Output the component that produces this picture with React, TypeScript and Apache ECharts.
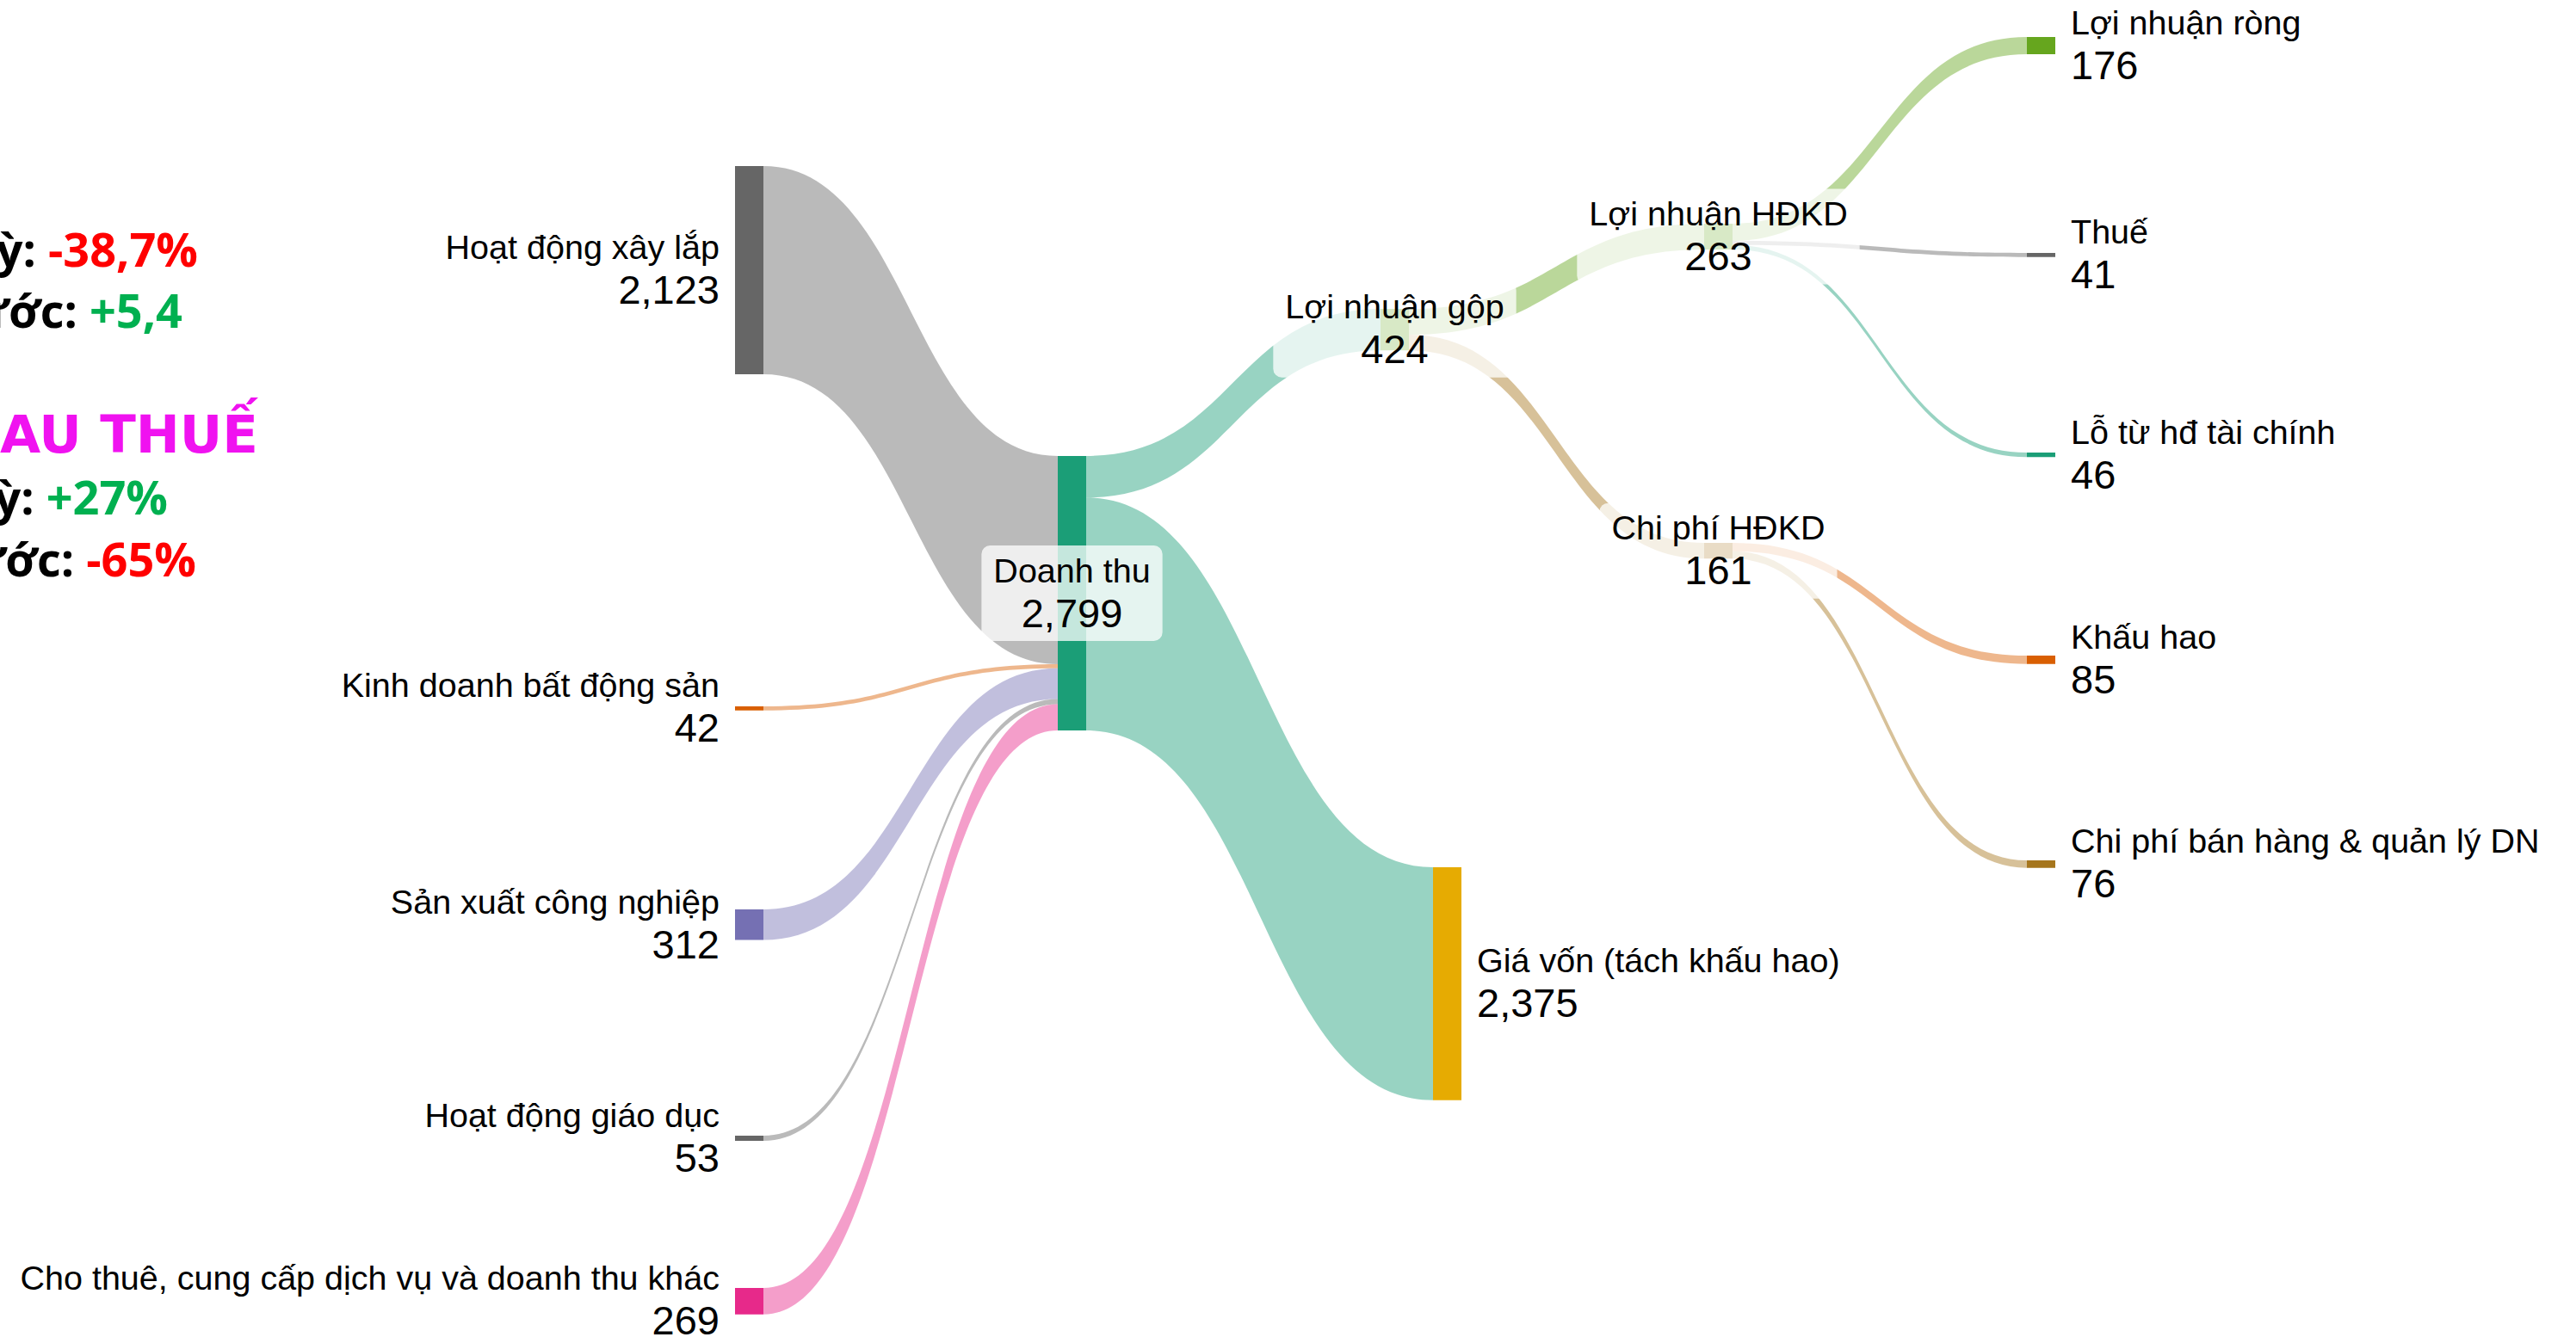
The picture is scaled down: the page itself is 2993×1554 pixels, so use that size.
import React, { useEffect, useRef } from "react";
import * as echarts from "echarts";

// ---- data ----
const nodeNames = [
  "Hoạt động xây lắp",
  "Kinh doanh bất động sản",
  "Sản xuất công nghiệp",
  "Hoạt động giáo dục",
  "Cho thuê, cung cấp dịch vụ và doanh thu khác",
  "Doanh thu",
  "Lợi nhuận gộp",
  "Giá vốn (tách khấu hao)",
  "Lợi nhuận HĐKD",
  "Chi phí HĐKD",
  "Lợi nhuận ròng",
  "Thuế",
  "Lỗ từ hđ tài chính",
  "Khấu hao",
  "Chi phí bán hàng & quản lý DN",
];
const nodeValues = [2123, 42, 312, 53, 269, 2799, 424, 2375, 263, 161, 176, 41, 46, 85, 76];

const linkSources = [
  "Hoạt động xây lắp",
  "Kinh doanh bất động sản",
  "Sản xuất công nghiệp",
  "Hoạt động giáo dục",
  "Cho thuê, cung cấp dịch vụ và doanh thu khác",
  "Doanh thu",
  "Doanh thu",
  "Lợi nhuận gộp",
  "Lợi nhuận gộp",
  "Lợi nhuận HĐKD",
  "Lợi nhuận HĐKD",
  "Lợi nhuận HĐKD",
  "Chi phí HĐKD",
  "Chi phí HĐKD",
];
const linkTargets = [
  "Doanh thu",
  "Doanh thu",
  "Doanh thu",
  "Doanh thu",
  "Doanh thu",
  "Lợi nhuận gộp",
  "Giá vốn (tách khấu hao)",
  "Lợi nhuận HĐKD",
  "Chi phí HĐKD",
  "Lợi nhuận ròng",
  "Thuế",
  "Lỗ từ hđ tài chính",
  "Khấu hao",
  "Chi phí bán hàng & quản lý DN",
];
const linkValues = [2123, 42, 312, 53, 269, 424, 2375, 263, 161, 176, 41, 46, 85, 76];

// side-panel texts
const panelLabels = ["So với cùng kỳ: ", "So với năm trước: ", "So với cùng kỳ: ", "So với năm trước: "];
const panelValues = ["-38,7%", "+5,4", "+27%", "-65%"];
const panelTitle = "LỢI NHUẬN SAU THUẾ";

// ---- layout / style (not data) ----
const W = 2993;
const H = 1554;
const NODE_W = 33;
const KY = 0.114; // px per unit
const nodeX = [854, 854, 854, 854, 854, 1229, 1604, 1665, 1980, 1980, 2355, 2355, 2355, 2355, 2355];
const nodeY = [193, 821, 1057, 1320, 1497, 530, 359, 1008, 260, 631, 43, 294, 526, 762, 1000];
const nodeColors = [
  "#666666", "#d95f02", "#7570b3", "#666666", "#e7298a",
  "#1b9e77", "#66a61e", "#e6ab02", "#66a61e", "#a6761d",
  "#66a61e", "#666666", "#1b9e77", "#d95f02", "#a6761d",
];
const labelPos = [
  "left", "left", "left", "left", "left",
  "inside", "inside", "right", "inside", "inside",
  "right", "right", "right", "right", "right",
];
const panelRightX = [230, 212, 195, 228];
const panelMidY = [289, 360, 577, 649];
const panelColors = ["#ff0000", "#00b050", "#00b050", "#ff0000"];

function rgba(hex: string, a: number) {
  const r = parseInt(hex.slice(1, 3), 16);
  const g = parseInt(hex.slice(3, 5), 16);
  const b = parseInt(hex.slice(5, 7), 16);
  return `rgba(${r},${g},${b},${a})`;
}

const fmt = (v: number) => Number(v).toLocaleString("en-US");

export default function App() {
  const ref = useRef<HTMLDivElement>(null);
  useEffect(() => {
    if (!ref.current) return;
    const chart = echarts.init(ref.current, undefined, { renderer: "svg" });
    const FONT = "Arial, 'Liberation Sans', sans-serif";
    const rich = {
      n: { fontSize: 39.5, lineHeight: 45, color: "#000", fontFamily: FONT },
      v: { fontSize: 47, lineHeight: 54, color: "#000", fontFamily: FONT },
    };
    const nodes = nodeNames.map((name, i) => {
      const pos = labelPos[i];
      const label: any = {
        show: true,
        position: pos,
        distance: 18,
        align: pos === "left" ? "right" : pos === "right" ? "left" : "center",
        formatter: (p: any) => `{n|${p.name}}\n{v|${fmt(p.value)}}`,
        rich,
      };
      if (pos === "inside") {
        label.backgroundColor = "rgba(255,255,255,0.75)";
        label.borderRadius = 10;
        label.padding = [6, 14];
      }
      return {
        name,
        value: nodeValues[i],
        localX: nodeX[i] / W,
        localY: nodeY[i] / H,
        itemStyle: { color: nodeColors[i], borderWidth: 0 },
        label,
      };
    });
    const idx = (n: string) => nodeNames.indexOf(n);
    const links = linkSources.map((s, i) => {
      const t = linkTargets[i];
      const useSource = t === "Doanh thu" || s === "Doanh thu";
      const c = nodeColors[useSource ? idx(s) : idx(t)];
      return {
        source: s,
        target: t,
        value: linkValues[i],
        lineStyle: { color: rgba(c, 0.45), opacity: 1, curveness: 0.5 },
      };
    });

    const PF = "'Open Sans', sans-serif";
    const graphic: any[] = [];
    panelLabels.forEach((lab, i) => {
      graphic.push({
        type: "text",
        x: panelRightX[i],
        y: panelMidY[i],
        style: {
          text: `{k|${lab}}{r|${panelValues[i]}}`,
          align: "right",
          verticalAlign: "middle",
          rich: {
            k: { fontSize: 54, fontWeight: "bold", fontFamily: PF, fill: "#000", color: "#000" },
            r: { fontSize: 54, fontWeight: "bold", fontFamily: PF, fill: panelColors[i], color: panelColors[i] },
          },
        },
      });
    });
    graphic.push({
      type: "text",
      x: 300,
      y: 504,
      style: {
        text: panelTitle,
        align: "right",
        verticalAlign: "middle",
        fontSize: 61,
        fontWeight: "bold",
        fontFamily: "'DejaVu Sans', sans-serif",
        fill: "#f012f0",
      },
    });

    chart.setOption({
      animation: false,
      backgroundColor: "#ffffff",
      graphic,
      series: [
        {
          type: "sankey",
          left: 0,
          top: 0,
          right: 0,
          bottom: 0,
          nodeWidth: NODE_W,
          nodeGap: (H - KY * 2799) / 4,
          nodeAlign: "left",
          layoutIterations: 0,
          draggable: false,
          emphasis: { disabled: true },
          data: nodes,
          links,
        },
      ],
    });
    return () => chart.dispose();
  }, []);
  return (
    <div
      ref={ref}
      style={{ position: "fixed", left: 0, top: 0, width: "100vw", height: "100vh" }}
    />
  );
}
